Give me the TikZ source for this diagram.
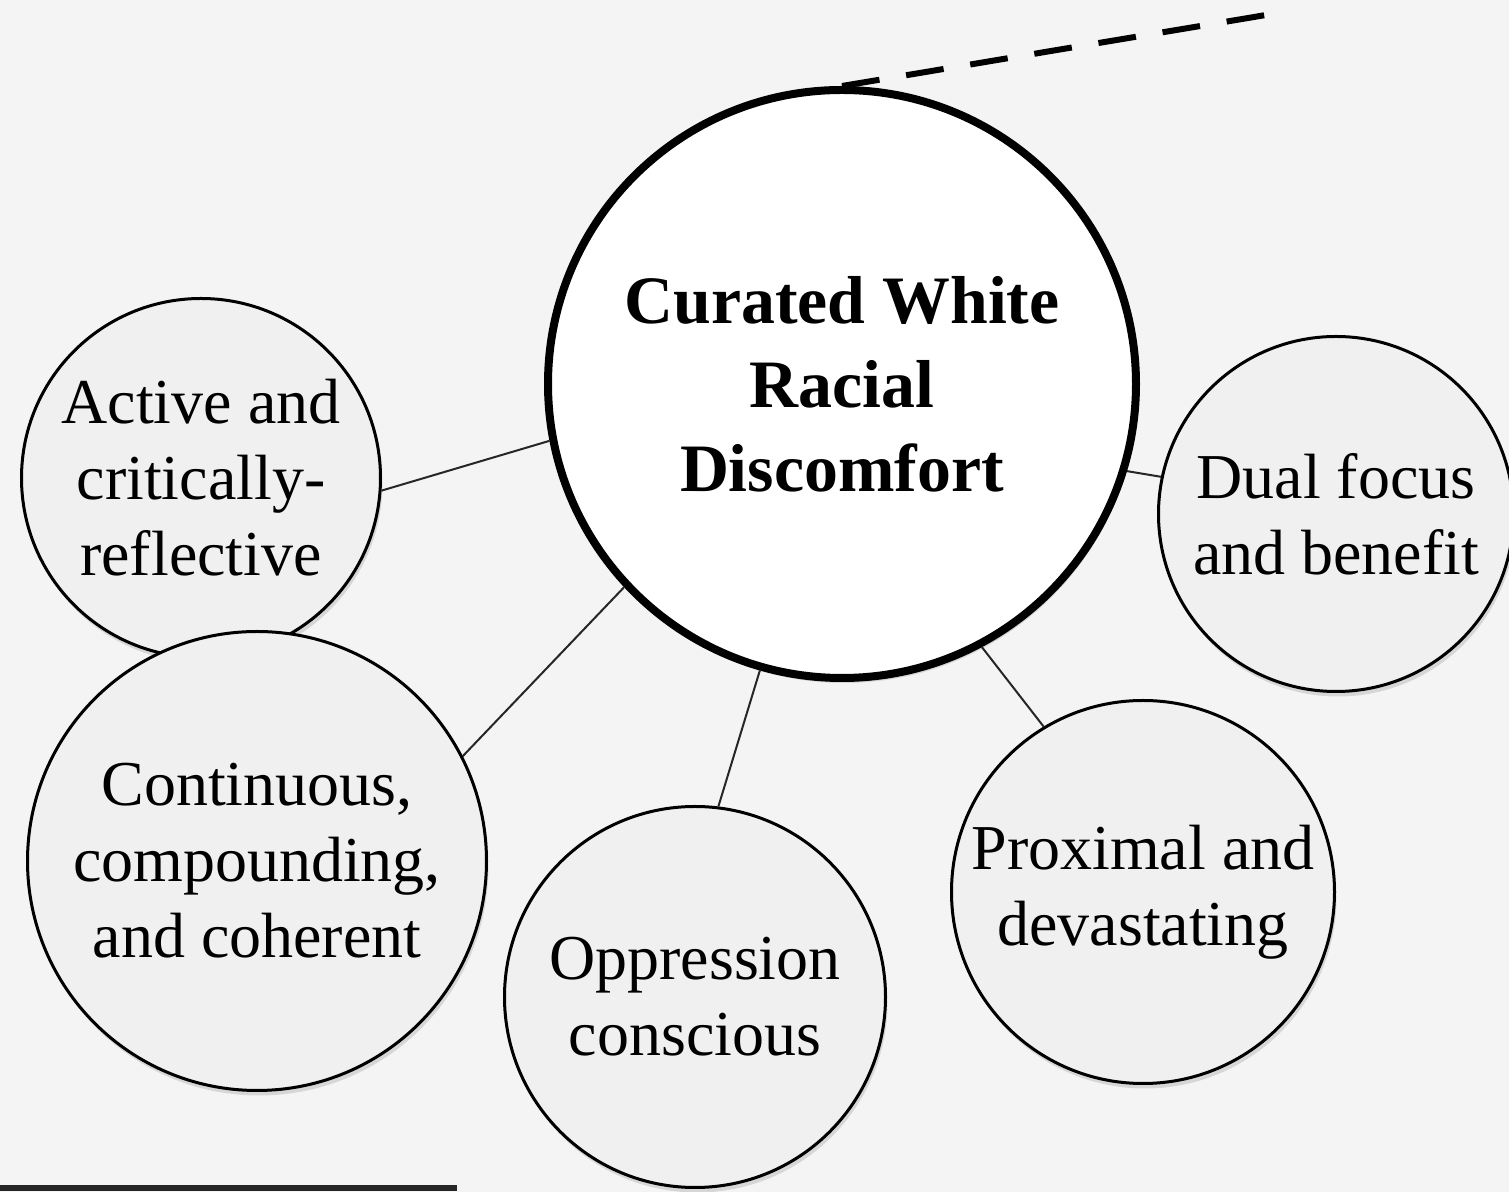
\documentclass[tikz,border=0pt]{standalone}
\usepackage{fontspec}
\setmainfont{Liberation Serif}
\usetikzlibrary{shadows}
\definecolor{paper}{HTML}{F4F4F4}
\definecolor{bubble}{HTML}{F0F0F0}
\begin{document}
\begin{tikzpicture}
        [core/.style={circle, draw, line width=0.08cm, fill=white, minimum size=5.88cm, inner sep=0pt,
            align=center, font=\fontsize{19.3}{23.9}\selectfont\bfseries,
            drop shadow={shadow xshift=0.02cm, shadow yshift=-0.05cm, opacity=0.25}},
        theme/.style={circle, draw, line width=0.03cm, fill=bubble, inner sep=0pt,
            align=center, font=\fontsize{18.2}{21.6}\selectfont,
            drop shadow={shadow xshift=0.02cm, shadow yshift=-0.05cm, opacity=0.25}},
        edge/.style={line width=0.02cm, black!85},
        trail/.style={line width=0.06cm, black, dash pattern=on 0.38cm off 0.27cm}]

        \useasboundingbox (0,0) rectangle (15.09,11.92);
        \fill[paper] (0,0) rectangle (15.09,11.92);

        \node[core] (cwrd) at (8.42,8.08) {Curated White\\Racial\\Discomfort};
        \node[theme, minimum size=3.59cm] (act) at (2.01,7.14) {Active and\\critically-\\reflective};
        \node[theme, minimum size=4.59cm] (cont) at (2.57,3.31) {Continuous,\\compounding,\\and coherent};
        \node[theme, minimum size=3.81cm] (opp) at (6.95,1.95) {Oppression\\conscious};
        \node[theme, minimum size=3.83cm] (prox) at (11.43,3.00) {Proximal and\\devastating};
        \node[theme, minimum size=3.55cm] (dual) at (13.36,6.78) {Dual focus\\and benefit};
        \coordinate (far) at (12.72,11.78);

        % spokes from the core
        \draw[edge] (act.-4) -- (cwrd.191);
        \draw[edge] (cont.27) -- (cwrd.223);
        \draw[edge] (opp.83) -- (cwrd.254);
        \draw[edge] (prox.121) -- (cwrd.298);
        \draw[edge] (dual.168) -- (cwrd.-17);

        % dashed lead-out
        \draw[trail] (cwrd.north) -- (far);

        % bottom rule
        \fill[black!85] (0,0.01) rectangle (4.57,0.07);

    \end{tikzpicture}
\end{document}
